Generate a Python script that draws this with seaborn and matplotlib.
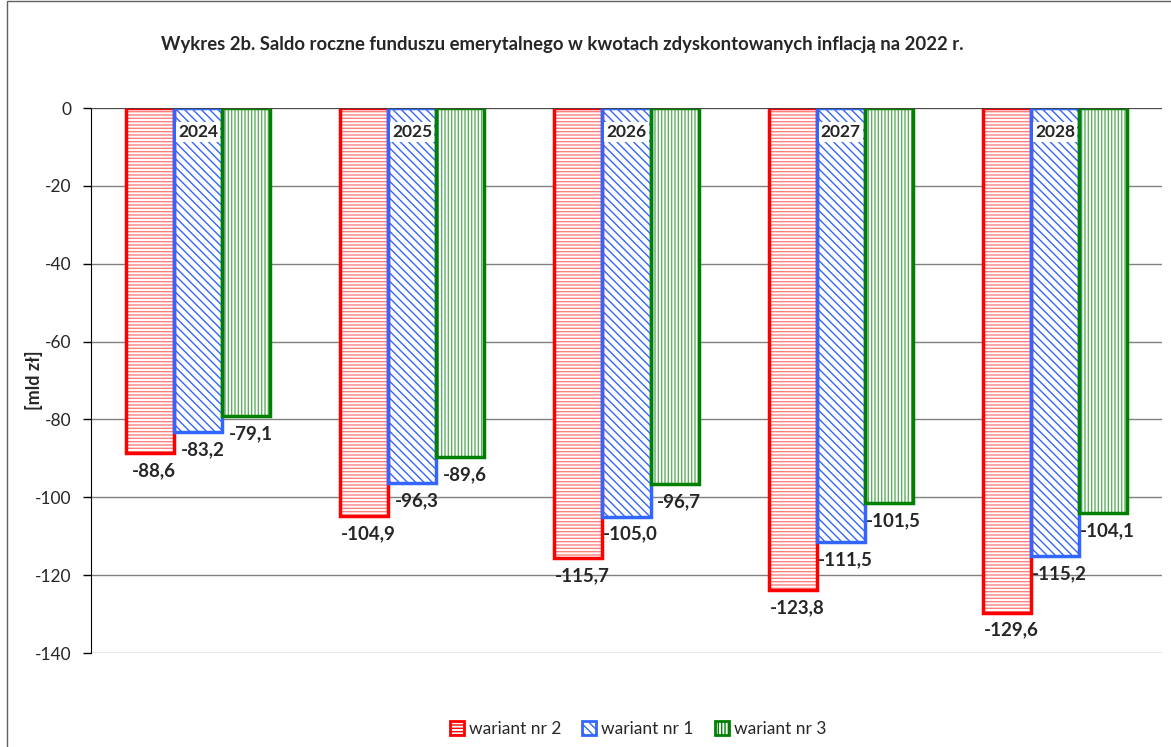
import pandas as pd
import numpy as np
import matplotlib
matplotlib.use("Agg")
import matplotlib.pyplot as plt
import seaborn as sns
from matplotlib.patches import Rectangle, Patch

years = ["2024", "2025", "2026", "2027", "2028"]
series = ["wariant nr 2", "wariant nr 1", "wariant nr 3"]
w2 = [-88.6, -104.9, -115.7, -123.8, -129.6]
w1 = [-83.2, -96.3, -105.0, -111.5, -115.2]
w3 = [-79.1, -89.6, -96.7, -101.5, -104.1]

edge_colors = ["#FF0000", "#3366FF", "#008000"]
hatch_colors = ["#FF8080", "#3366FF", "#5FB05F"]
hatches = ["-----", "\\\\\\\\", "|||||"]

df = pd.DataFrame({
    "rok": years * 3,
    "wariant": sum([[s] * 5 for s in series], []),
    "saldo": w2 + w1 + w3,
})

sns.set_style("white")
plt.rcParams["font.family"] = ["Lato", "DejaVu Sans"]
plt.rcParams["hatch.linewidth"] = 1.0
plt.rcParams["axes.unicode_minus"] = False

fig = plt.figure(figsize=(11.71, 7.47), dpi=100)
ax = fig.add_axes([0.0777, 0.1258, 0.9146, 0.7296])

sns.barplot(data=df, x="rok", y="saldo", hue="wariant", hue_order=series,
            width=0.673, ax=ax, legend=False, errorbar=None)

# style bars: light hatch + strong outline
for i, cont in enumerate(ax.containers):
    for bar in cont:
        bar.set_facecolor("white")
        bar.set_edgecolor(hatch_colors[i])
        bar.set_hatch(hatches[i])
        bar.set_linewidth(0)
        x, y = bar.get_xy()
        ax.add_patch(Rectangle((x, y), bar.get_width(), bar.get_height(),
                               fill=False, edgecolor=edge_colors[i],
                               linewidth=2.5, zorder=3))
    labels = [f"{v:.1f}".replace(".", ",") for v in cont.datavalues]
    for bar, lab in zip(cont, labels):
        ax.text(bar.get_x() + bar.get_width() / 2 + 0.02, bar.get_height() - 2.3, lab,
                ha="center", va="top", fontsize=13.5, fontweight="bold", zorder=5)

# year labels inside the middle bars
mid = ax.containers[1]
for bar, yr in zip(mid, years):
    ax.text(bar.get_x() + bar.get_width() / 2, -6.2, yr, ha="center", va="center",
            fontsize=12.5, fontweight="bold", zorder=6,
            bbox=dict(facecolor="white", edgecolor="none", pad=1.5))

ax.set_ylim(-140, 0)
ax.set_xlim(-0.5, 4.5)
ax.set_yticks(np.arange(-140, 1, 20))
ax.tick_params(axis="y", labelsize=12.5, left=True, length=6, width=1, color="black", pad=8)
ax.set_xticks([])
ax.set_xlabel("")
ax.set_ylabel("[mld zł]", fontsize=13, fontweight="bold")
ax.yaxis.set_label_coords(-0.045, 0.5)
ax.yaxis.grid(True, color="#808080", linewidth=1)
ax.set_axisbelow(True)
for s in ["top", "right", "bottom"]:
    ax.spines[s].set_visible(False)
ax.spines["left"].set_color("black")
ax.axhline(0, color="#404040", linewidth=1.2, zorder=4)

fig.text(0.48, 0.94, "Wykres 2b. Saldo roczne funduszu emerytalnego w kwotach zdyskontowanych inflacją na 2022 r.",
         ha="center", va="center", fontsize=13.3, fontweight="bold")

handles = [Patch(facecolor="white", edgecolor=edge_colors[i], hatch=hatches[i], linewidth=2)
           for i in range(3)]
fig.legend(handles, series, loc="center", bbox_to_anchor=(0.545, 0.024), ncol=3,
           frameon=False, fontsize=12.5, handlelength=0.8, handleheight=0.8,
           handletextpad=0.3, columnspacing=1.2)

fig.add_artist(Rectangle((0.006, -0.01), 1.1, 1.008, transform=fig.transFigure,
                         fill=False, edgecolor="#606060", linewidth=1))

fig.savefig("out.png", dpi=100)
